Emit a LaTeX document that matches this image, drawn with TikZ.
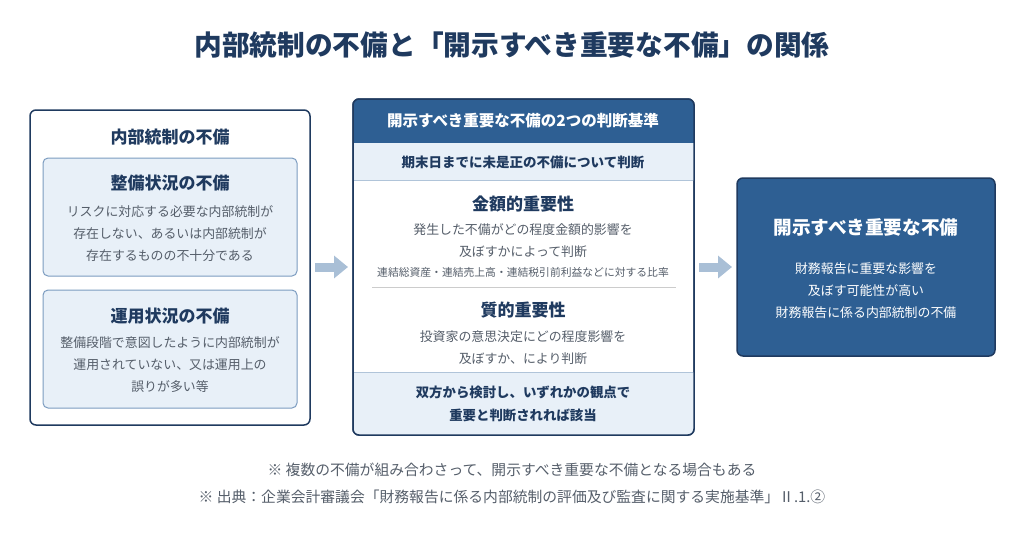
\documentclass[tikz,border=0pt]{standalone}
\usepackage{fontspec}
\setmainfont{Noto Sans CJK JP}
\usetikzlibrary{positioning,arrows.meta}
\definecolor{navy}{HTML}{1F3A5F}
\definecolor{mainblue}{HTML}{2E5F93}
\definecolor{paleblue}{HTML}{E8F0F8}
\definecolor{edgeblue}{HTML}{7C9CC0}
\definecolor{txtgray}{HTML}{555E6A}
\definecolor{arrowgray}{HTML}{A9BFD6}
\tikzset{
  box/.style={draw=navy, line width=1.5pt, rounded corners=6pt, fill=white},
  subbox/.style={draw=edgeblue, line width=1pt, rounded corners=5pt, fill=paleblue},
  head/.style={font=\bfseries\fontsize{17}{20}\selectfont, text=navy},
  body/.style={font=\fontsize{12.9}{22}\selectfont, text=txtgray, align=center},
  flow/.style={line width=9pt, draw=arrowgray, -{Triangle[length=14pt,width=22pt]}}
}
\begin{document}
\begin{tikzpicture}[x=1pt,y=-1pt]
  \useasboundingbox (0,0) rectangle (1024,555);
  % Title
  \node[font=\bfseries\fontsize{27.7}{32}\selectfont, text=navy] (title) at (512,45)
    {内部統制の不備と「開示すべき重要な不備」の関係};
  % Left box
  \draw[box] (30,110) rectangle (310,425);
  \node[head] (lefthead) at (170,137) {内部統制の不備};
  \draw[subbox] (43,158) rectangle (297,276);
  \node[head] (seibi) at (170,183) {整備状況の不備};
  \node[body] (seibitext) at (170,234) {リスクに対応する必要な内部統制が\\存在しない、あるいは内部統制が\\存在するものの不十分である};
  \draw[subbox] (43,290) rectangle (297,408);
  \node[head] (unyo) at (170,316) {運用状況の不備};
  \node[body] (unyotext) at (170,365) {整備段階で意図したように内部統制が\\運用されていない、又は運用上の\\誤りが多い等};
  \coordinate (lefte) at (310,267);
  % Middle box
  \draw[box] (353,99) rectangle (694,435);
  \begin{scope}
    \clip[rounded corners=6pt] (353,99) rectangle (694,435);
    \fill[mainblue] (353,99) rectangle (694,143);
    \fill[paleblue] (353,143) rectangle (694,180);
    \fill[paleblue] (353,372) rectangle (694,435);
    \draw[edgeblue!60, line width=0.8pt] (353,180) -- (694,180) (353,372) -- (694,372);
  \end{scope}
  \draw[navy, line width=1.5pt, rounded corners=6pt] (353,99) rectangle (694,435);
  \node[font=\bfseries\fontsize{15.5}{18}\selectfont, text=white] (midhead) at (523,121) {開示すべき重要な不備の2つの判断基準};
  \node[font=\bfseries\fontsize{13.5}{16}\selectfont, text=navy] (kimatsu) at (523,162) {期末日までに未是正の不備について判断};
  \node[head] (kingaku) at (523,204) {金額的重要性};
  \node[body] (kingakutext) at (523,241) {発生した不備がどの程度金額的影響を\\及ぼすかによって判断};
  \node[font=\fontsize{10.8}{13}\selectfont, text=txtgray] (hiritsu) at (523,272) {連結総資産・連結売上高・連結税引前利益などに対する比率};
  \draw[gray!40, line width=0.8pt] (372,287) -- (676,287);
  \node[head] (shitsu) at (523,310) {質的重要性};
  \node[body] (shitsutext) at (523,348) {投資家の意思決定にどの程度影響を\\及ぼすか、により判断};
  \node[font=\bfseries\fontsize{13.4}{23}\selectfont, text=navy, align=center] (gaito) at (523,404) {双方から検討し、いずれかの観点で\\重要と判断されれば該当};
  \coordinate (midw) at (353,267);
  \coordinate (mide) at (694,267);
  % Right box
  \draw[draw=navy, line width=1.5pt, rounded corners=6pt, fill=mainblue] (737,178) rectangle (995,356);
  \node[font=\bfseries\fontsize{18.6}{22}\selectfont, text=white] (kaiji) at (866,227) {開示すべき重要な不備};
  \node[body, text=white] (kaijitext) at (866,291) {財務報告に重要な影響を\\及ぼす可能性が高い\\財務報告に係る内部統制の不備};
  \coordinate (rightw) at (737,267);
  % Arrows
  \draw[flow, shorten <=5pt, shorten >=5pt] (lefte) -- (midw);
  \draw[flow, shorten <=5pt, shorten >=5pt] (mide) -- (rightw);
  % Notes
  \node[font=\fontsize{14.8}{18}\selectfont, text=txtgray] (note1) at (512,470) {※ 複数の不備が組み合わさって、開示すべき重要な不備となる場合もある};
  \node[font=\fontsize{14.8}{18}\selectfont, text=txtgray] (note2) at (512,497) {※ 出典：企業会計審議会「財務報告に係る内部統制の評価及び監査に関する実施基準」Ⅱ.1.②};
\end{tikzpicture}
\end{document}
